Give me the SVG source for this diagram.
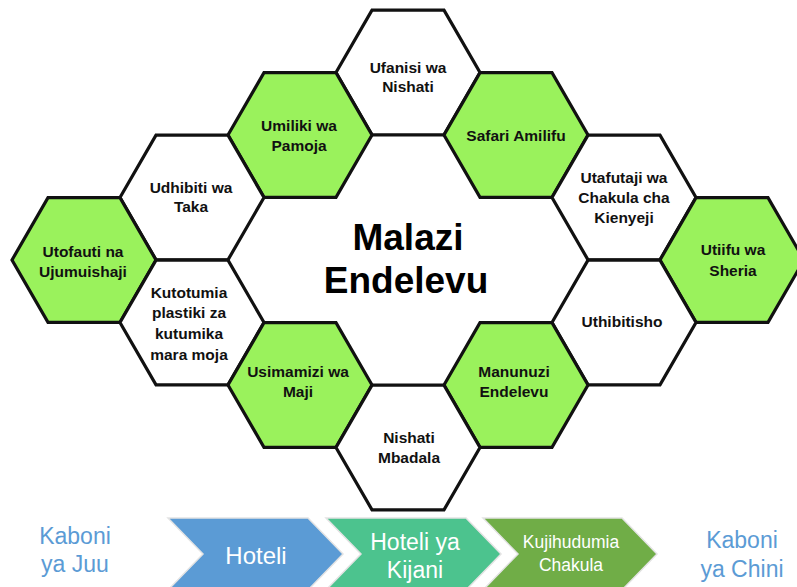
<svg xmlns="http://www.w3.org/2000/svg" xmlns:xlink="http://www.w3.org/1999/xlink" width="797" height="587" viewBox="0 0 797 587">
<style>
.hw{fill:#ffffff}
.hg{fill:#9AF25C}
.lbl{font-family:"Liberation Sans",Arial,sans-serif;font-weight:bold;font-size:15.5px;fill:#111;text-anchor:middle}
.title{font-family:"Liberation Sans",Arial,sans-serif;font-weight:bold;font-size:37px;fill:#000;text-anchor:middle}
.cv{font-family:"Liberation Sans",Arial,sans-serif;fill:#fff;text-anchor:middle}
.side{font-family:"Liberation Sans",Arial,sans-serif;fill:#5B9BD5;font-size:23px;text-anchor:middle}
.chev{stroke:#e3e3e3;stroke-width:1.5}
</style>
<defs>
<polygon id="hex" points="-72,0 -36,-62.35 36,-62.35 72,0 36,62.35 -36,62.35" stroke="#111" stroke-width="3.2" stroke-linejoin="miter"/>
</defs>
<rect width="797" height="587" fill="#fff"/>

<g id="connectors"></g>

<g id="n-ufanisi"><use xlink:href="#hex" class="hw" x="408" y="72.5"/>
<text class="lbl" x="408" y="73">Ufanisi wa</text><text class="lbl" x="408" y="92">Nishati</text></g>

<g id="n-umiliki"><use xlink:href="#hex" class="hg" x="300" y="135"/>
<text class="lbl" x="299" y="131">Umiliki wa</text><text class="lbl" x="299" y="151">Pamoja</text></g>

<g id="n-safari"><use xlink:href="#hex" class="hg" x="516" y="135"/>
<text class="lbl" x="516" y="141">Safari Amilifu</text></g>

<g id="n-udhibiti"><use xlink:href="#hex" class="hw" x="192" y="197.5"/>
<text class="lbl" x="191" y="193">Udhibiti wa</text><text class="lbl" x="191" y="212">Taka</text></g>

<g id="n-utafutaji"><use xlink:href="#hex" class="hw" x="624" y="197.5"/>
<text class="lbl" x="624" y="183">Utafutaji wa</text><text class="lbl" x="624" y="203">Chakula cha</text><text class="lbl" x="624" y="223">Kienyeji</text></g>

<g id="n-utofauti"><use xlink:href="#hex" class="hg" x="84" y="260"/>
<text class="lbl" x="83" y="257">Utofauti na</text><text class="lbl" x="83" y="277">Ujumuishaji</text></g>

<g id="n-utiifu"><use xlink:href="#hex" class="hg" x="732" y="260"/>
<text class="lbl" x="733" y="255">Utiifu wa</text><text class="lbl" x="733" y="276">Sheria</text></g>

<g id="n-kutotumia"><use xlink:href="#hex" class="hw" x="192" y="322.5"/>
<text class="lbl" x="189" y="298">Kutotumia</text><text class="lbl" x="189" y="318">plastiki za</text><text class="lbl" x="189" y="339">kutumika</text><text class="lbl" x="189" y="360">mara moja</text></g>

<g id="n-uthibitisho"><use xlink:href="#hex" class="hw" x="624" y="322.5"/>
<text class="lbl" x="622" y="327">Uthibitisho</text></g>

<g id="n-usimamizi"><use xlink:href="#hex" class="hg" x="300" y="385"/>
<text class="lbl" x="298" y="377">Usimamizi wa</text><text class="lbl" x="298" y="397">Maji</text></g>

<g id="n-manunuzi"><use xlink:href="#hex" class="hg" x="516" y="385"/>
<text class="lbl" x="514" y="377">Manunuzi</text><text class="lbl" x="514" y="397">Endelevu</text></g>

<g id="n-nishati"><use xlink:href="#hex" class="hw" x="408" y="447.5"/>
<text class="lbl" x="409" y="443">Nishati</text><text class="lbl" x="409" y="463">Mbadala</text></g>

<g id="n-center">
<text class="title" x="408" y="250">Malazi</text><text class="title" x="406" y="293">Endelevu</text></g>

<g id="n-kaboni-juu"><text class="side" x="75" y="544">Kaboni</text><text class="side" x="75" y="572">ya Juu</text></g>

<g id="n-hoteli"><polygon class="chev" fill="#5B9BD5" points="168,518 308,518 343,554 308,590 168,590 203,554"/>
<text class="cv" x="256" y="564" font-size="24">Hoteli</text></g>

<g id="n-hoteli-kijani"><polygon class="chev" fill="#4CC38E" points="326,518 466,518 501,554 466,590 326,590 361,554"/>
<text class="cv" x="415" y="550" font-size="23">Hoteli ya</text><text class="cv" x="415" y="578" font-size="23">Kijani</text></g>

<g id="n-kujihudumia"><polygon class="chev" fill="#70AD47" points="483,518 622,518 657,554 622,590 483,590 518,554"/>
<text class="cv" x="571" y="548" font-size="17.5">Kujihudumia</text><text class="cv" x="571" y="571" font-size="17.5">Chakula</text></g>

<g id="n-kaboni-chini"><text class="side" x="742" y="548">Kaboni</text><text class="side" x="742" y="577">ya Chini</text></g>
</svg>
